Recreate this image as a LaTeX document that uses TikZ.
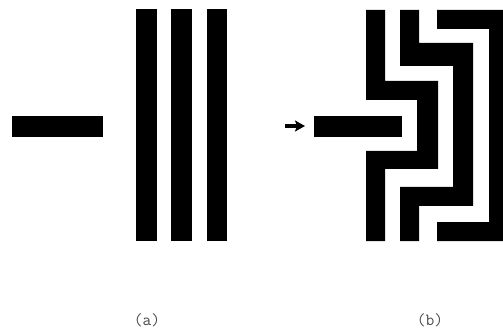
\documentclass[tikz,border=0pt]{standalone}
\usetikzlibrary{arrows.meta}
\tikzset{
  blk/.style={fill=black, draw=none},
  lab/.style={font=\ttfamily\fontsize{17}{19}\selectfont, text=black!70, inner sep=0pt}
}
\begin{document}
\begin{tikzpicture}[x=1pt,y=-1pt]
\useasboundingbox (0,0) rectangle (503,331);
% (a)
\fill[blk] (12,116) rectangle (103,137);
\fill[blk] (136,9) rectangle (157,241);
\fill[blk] (171,9) rectangle (192,241);
\fill[blk] (207,9) rectangle (227,241);
\node[lab] (la) at (147,320) {(a)};
% (b)
\coordinate (arrS) at (285,126);
\coordinate (arrE) at (305,126);
\draw[line width=3.5pt, -{Stealth[length=10pt,width=11pt,inset=2pt]}] (arrS) -- (arrE);
\fill[blk] (314,116) rectangle (402,137);
\fill[blk] (366,10) -- (385,10) -- (385,81) -- (438,81) -- (438,169) -- (385,169) -- (385,241) -- (366,241) -- (366,151) -- (417,151) -- (417,100) -- (366,100) -- cycle;
\fill[blk] (400,10) -- (419,10) -- (419,43) -- (473,43) -- (473,206) -- (419,206) -- (419,241) -- (400,241) -- (400,187) -- (453,187) -- (453,66) -- (400,66) -- cycle;
\fill[blk] (437,10) -- (503,10) -- (503,241) -- (437,241) -- (437,222) -- (489,222) -- (489,29) -- (437,29) -- cycle;
\node[lab] (lb) at (430,320) {(b)};
\end{tikzpicture}
\end{document}
